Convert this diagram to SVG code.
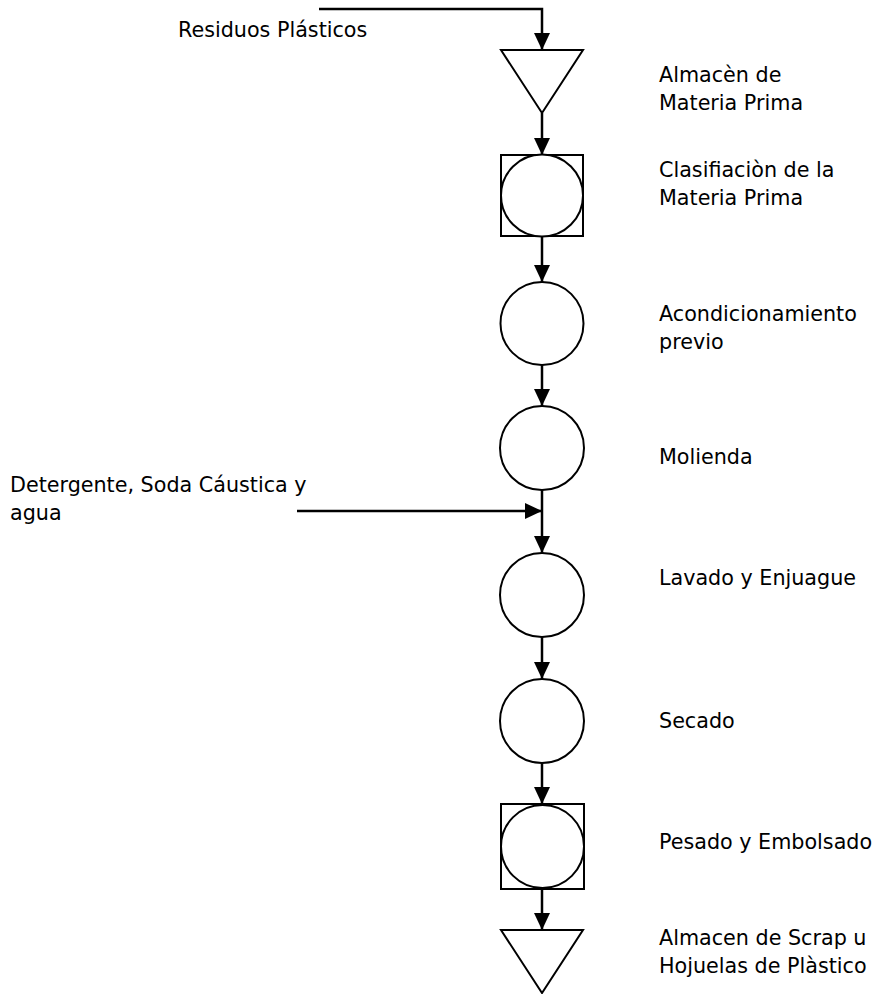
<svg xmlns="http://www.w3.org/2000/svg" width="879" height="994" viewBox="0 0 879 994">
  <style>
    .shape { fill: #ffffff; stroke: #000000; stroke-width: 2; }
    .flow { fill: none; stroke: #000000; stroke-width: 2.5; }
    text { font-family: "DejaVu Sans", Verdana, sans-serif; font-size: 20.7px; fill: #000000; }
  </style>
  <defs>
    <marker id="arrow" markerUnits="userSpaceOnUse" markerWidth="17" markerHeight="16" refX="17" refY="8" orient="auto">
      <path d="M0,0 L17,8 L0,16 Z" fill="#000000"/>
    </marker>
  </defs>

  <rect width="879" height="994" fill="#ffffff"/>

  <!-- connectors -->
  <g id="connectors">
    <path class="flow" d="M319,9 H542 V50" marker-end="url(#arrow)"/>
    <path class="flow" d="M542,113 V155" marker-end="url(#arrow)"/>
    <path class="flow" d="M542,236 V282" marker-end="url(#arrow)"/>
    <path class="flow" d="M542,365 V406" marker-end="url(#arrow)"/>
    <path class="flow" d="M542,490 V553" marker-end="url(#arrow)"/>
    <path class="flow" d="M297,511 H542" marker-end="url(#arrow)"/>
    <path class="flow" d="M542,637 V679" marker-end="url(#arrow)"/>
    <path class="flow" d="M542,763 V804" marker-end="url(#arrow)"/>
    <path class="flow" d="M542,889 V930" marker-end="url(#arrow)"/>
  </g>

  <!-- inputs -->
  <g id="input-residuos">
    <text x="178" y="37">Residuos Plásticos</text>
  </g>
  <g id="input-detergente">
    <text x="10" y="492">Detergente, Soda Cáustica y</text>
    <text x="10" y="520">agua</text>
  </g>

  <!-- process steps -->
  <g id="almacen-materia-prima">
    <polygon class="shape" points="501,50 583,50 542,113"/>
    <text x="659" y="82">Almacèn de</text>
    <text x="659" y="110">Materia Prima</text>
  </g>
  <g id="clasificacion">
    <rect class="shape" x="501" y="155" width="82" height="81"/>
    <circle class="shape" cx="542" cy="195.5" r="41"/>
    <text x="659" y="177">Clasifiaciòn de la</text>
    <text x="659" y="205">Materia Prima</text>
  </g>
  <g id="acondicionamiento">
    <circle class="shape" cx="542" cy="323.5" r="41.5"/>
    <text x="659" y="321">Acondicionamiento</text>
    <text x="659" y="349">previo</text>
  </g>
  <g id="molienda">
    <circle class="shape" cx="542" cy="448" r="42"/>
    <text x="659" y="464">Molienda</text>
  </g>
  <g id="lavado">
    <circle class="shape" cx="542" cy="595" r="42"/>
    <text x="659" y="585">Lavado y Enjuague</text>
  </g>
  <g id="secado">
    <circle class="shape" cx="542" cy="721" r="42"/>
    <text x="659" y="728">Secado</text>
  </g>
  <g id="pesado">
    <rect class="shape" x="501" y="804" width="83" height="85"/>
    <circle class="shape" cx="542.5" cy="846.5" r="41.5"/>
    <text x="659" y="849">Pesado y Embolsado</text>
  </g>
  <g id="almacen-scrap">
    <polygon class="shape" points="501,930 583,930 542,993"/>
    <text x="659" y="945">Almacen de Scrap u</text>
    <text x="659" y="973">Hojuelas de Plàstico</text>
  </g>
</svg>
